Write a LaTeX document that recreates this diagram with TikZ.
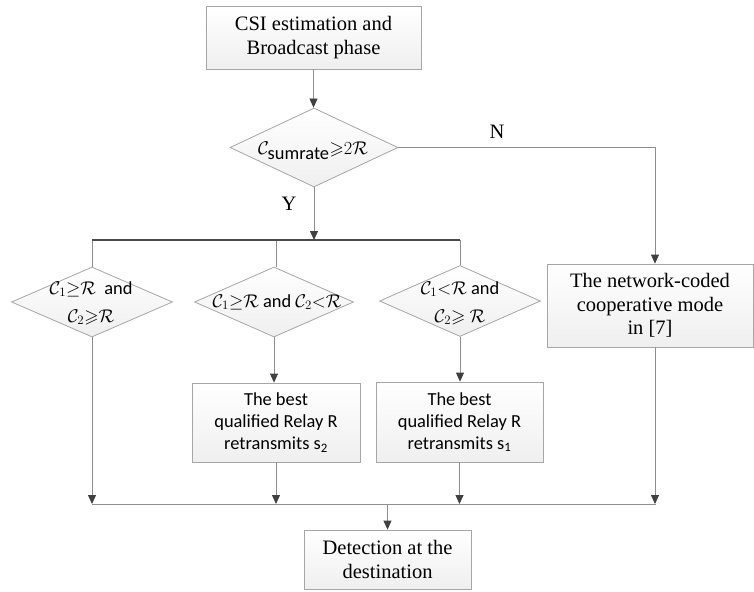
\documentclass[tikz,border=0pt]{standalone}
\usepackage{fix-cm}
\usepackage{amssymb}
\usepackage{fontspec}
\setmainfont{Liberation Serif}
\setsansfont{Carlito}
\usetikzlibrary{shapes.geometric,arrows.meta,calc}
\definecolor{linegray}{HTML}{8E8E8E}
\definecolor{tipgray}{HTML}{404040}
\definecolor{bordergray}{HTML}{A6A6A6}
\definecolor{busgray}{HTML}{4A4A4A}
\definecolor{shadegray}{HTML}{EFEFEF}
\newcommand\serifbig{\fontsize{20.5}{23.5}\selectfont}
\newcommand\sansmid{\sffamily\fontsize{18.4}{22}\selectfont}
\newcommand\sanswide{\sffamily\fontsize{18.4}{28}\selectfont}
\tikzset{
  procbox/.style={draw=bordergray, line width=0.8pt, top color=white, bottom color=shadegray,
    inner sep=0pt, align=center},
  serifbox/.style={procbox, font=\serifbig},
  sansbox/.style={procbox, font=\sansmid},
  decision/.style={diamond, draw=bordergray, line width=0.8pt, top color=white, bottom color=shadegray, inner sep=0pt},
  dtext/.style={align=center, inner sep=0pt, font=\sanswide},
  conn/.style={draw=linegray, line width=0.8pt},
  arr/.style={conn, -{Triangle[width=8pt,length=9pt,color=tipgray]}},
  busline/.style={draw=busgray, line width=1.8pt},
  lbl/.style={font=\serifbig, inner sep=0pt}
}
\begin{document}
\begin{tikzpicture}[x=1pt,y=-1pt]
\useasboundingbox (0,0) rectangle (754,591);

% boxes
\node[serifbox, minimum width=215pt, minimum height=63pt] (start) at (313.5,37.5) {CSI estimation and\\Broadcast phase};
\node[serifbox, minimum width=206pt, minimum height=83pt] (coop) at (650,305.5) {The network-coded\\cooperative mode\\in [7]};
\node[sansbox, minimum width=168pt, minimum height=79pt] (b1) at (276,422.5) {The best\\qualified Relay R\\retransmits s\textsubscript{2}};
\node[sansbox, minimum width=167pt, minimum height=80pt] (b2) at (459.5,422) {The best\\qualified Relay R\\retransmits s\textsubscript{1}};
\node[serifbox, minimum width=167pt, minimum height=59pt] (det) at (387.5,559.5) {Detection at the\\destination};

% decisions
\node[decision, minimum width=168pt, minimum height=79pt] (d1) at (314,147.5) {};
\node[dtext, font=\sansmid] (t1) at (313,151) {$\mathcal{C}_{\textsf{sumrate}}{\geqslant}2\mathcal{R}$};
\node[decision, minimum width=161pt, minimum height=70pt] (d2) at (92,302) {};
\node[dtext] (t2) at (91,303) {$\mathcal{C}_1{\ge}\mathcal{R}$\ \ and\\$\mathcal{C}_2{\geqslant}\mathcal{R}$};
\node[decision, minimum width=159pt, minimum height=70pt] (d3) at (274,302) {};
\node[dtext] (t3) at (277,302) {$\mathcal{C}_1{\ge}\mathcal{R}$ and $\mathcal{C}_2{<}\mathcal{R}$};
\node[decision, minimum width=161pt, minimum height=71pt] (d4) at (460,301) {};
\node[dtext] (t4) at (460,303) {$\mathcal{C}_1{<}\mathcal{R}$ and\\$\mathcal{C}_2{\geqslant}\ \mathcal{R}$};

% labels
\node[lbl] (N) at (497,132) {N};
\node[lbl] (Y) at (289,204) {Y};

% bus coordinates
\coordinate (busA) at (92,240);
\coordinate (busB) at (460,240);
\coordinate (busC) at (92,504);
\coordinate (busD) at (656,504);
\coordinate (ctop) at ([xshift=5pt]coop.north);
\coordinate (cbot) at ([xshift=5pt]coop.south);

% connectors
\draw[arr] (start.south) -- (start.south |- d1.north);
\draw[arr] (d1.south) -- (d1.south |- busA);
\draw[arr] (d1.east) -| (ctop);
\draw[conn] (busA) -- (d2.north);
\draw[conn] ([xshift=2pt]d3.north |- busA) -- ([xshift=2pt]d3.north);
\draw[conn] (busB) -- (d4.north);
\draw[busline] (busA) -- (busB);

\draw[arr] (d2.south) -- (d2.south |- busC);
\draw[arr] (d3.south) -- (d3.south |- b1.north);
\draw[arr] (d4.south) -- (d4.south |- b2.north);
\draw[arr] (b1.south) -- (b1.south |- busC);
\draw[arr] (b2.south) -- (b2.south |- busC);
\draw[arr] (cbot) -- (cbot |- busC);
\draw[conn] (busC) -- (busD);
\draw[arr] (det.north |- busC) -- (det.north);
\end{tikzpicture}
\end{document}
